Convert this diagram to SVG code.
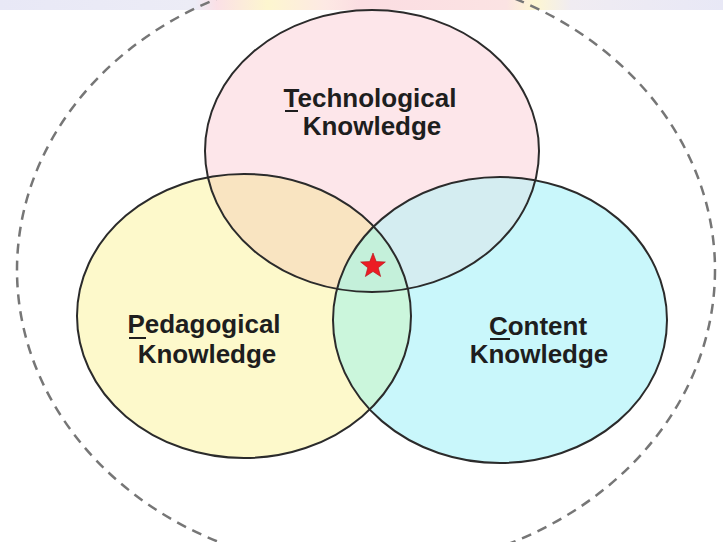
<svg xmlns="http://www.w3.org/2000/svg" width="723" height="542" viewBox="0 0 723 542">
  <defs>
    <style>
      .lbl { font-family: "Liberation Sans", Arial, sans-serif; font-weight: bold; font-size: 26px; fill: #1e1e1e; text-anchor: middle; }
      .ul { stroke: #1e1e1e; stroke-width: 2; }
      .outline { fill: none; stroke: #2b2b2b; stroke-width: 2; }
    </style>
    <linearGradient id="wm" x1="0" y1="0" x2="1" y2="0">
      <stop offset="0" stop-color="#e8e8f6"/>
      <stop offset="0.27" stop-color="#ececf6"/>
      <stop offset="0.30" stop-color="#fbe0e6"/>
      <stop offset="0.37" stop-color="#fdf6cf"/>
      <stop offset="0.45" stop-color="#fde9e4"/>
      <stop offset="0.50" stop-color="#fbdde2"/>
      <stop offset="0.70" stop-color="#fbe3e3"/>
      <stop offset="0.74" stop-color="#fdf6d2"/>
      <stop offset="0.79" stop-color="#f0ecf2"/>
      <stop offset="1" stop-color="#e8e8f6"/>
    </linearGradient>
    <clipPath id="cT"><ellipse cx="372" cy="151" rx="167" ry="141"/></clipPath>
    <clipPath id="cL"><ellipse cx="244" cy="316" rx="167" ry="142"/></clipPath>
    <clipPath id="cR"><ellipse cx="500" cy="320" rx="167" ry="143"/></clipPath>
  </defs>

  <rect width="723" height="542" fill="#ffffff"/>
  <rect x="0" y="0" width="723" height="10" fill="url(#wm)"/>

  <g id="context">
    <ellipse cx="366" cy="270" rx="349" ry="300" fill="none" stroke="#767676" stroke-width="2.5" stroke-dasharray="10 7"/>
  </g>

  <g id="pedagogical">
    <ellipse cx="244" cy="316" rx="167" ry="142" fill="#fdf9cb"/>
  </g>
  <g id="content">
    <ellipse cx="500" cy="320" rx="167" ry="143" fill="#c9f7fb"/>
  </g>
  <g id="technological">
    <ellipse cx="372" cy="151" rx="167" ry="141" fill="#fde6ea"/>
  </g>

  <g id="overlaps">
    <g clip-path="url(#cL)"><ellipse cx="372" cy="151" rx="167" ry="141" fill="#f9e4c1"/></g>
    <g clip-path="url(#cR)"><ellipse cx="372" cy="151" rx="167" ry="141" fill="#d4edf1"/></g>
    <g clip-path="url(#cR)"><ellipse cx="244" cy="316" rx="167" ry="142" fill="#cbf6dc"/></g>
    <g clip-path="url(#cR)"><g clip-path="url(#cL)"><ellipse cx="372" cy="151" rx="167" ry="141" fill="#c4f0da"/></g></g>
  </g>

  <g id="connectors">
    <ellipse class="outline" cx="244" cy="316" rx="167" ry="142"/>
    <ellipse class="outline" cx="500" cy="320" rx="167" ry="143"/>
    <ellipse class="outline" cx="372" cy="151" rx="167" ry="141"/>
  </g>

  <g id="technological-label">
    <text class="lbl" x="370" y="107">Technological</text>
    <text class="lbl" x="372" y="135">Knowledge</text>
    <line class="ul" x1="285" y1="111" x2="298" y2="111"/>
  </g>
  <g id="pedagogical-label">
    <text class="lbl" x="204" y="333">Pedagogical</text>
    <text class="lbl" x="207" y="363">Knowledge</text>
    <line class="ul" x1="129" y1="338" x2="146" y2="338"/>
  </g>
  <g id="content-label">
    <text class="lbl" x="538" y="335">Content</text>
    <text class="lbl" x="539" y="363">Knowledge</text>
    <line class="ul" x1="490" y1="339" x2="510" y2="339"/>
  </g>

  <g id="tpack-star">
    <polygon points="373,253 376.23,261.55 385.36,261.98 378.23,267.7 380.64,276.52 373,271.5 365.36,276.52 367.77,267.7 360.64,261.98 369.77,261.55" fill="#ec1c24" stroke="#b01018" stroke-width="0.6"/>
  </g>
</svg>
